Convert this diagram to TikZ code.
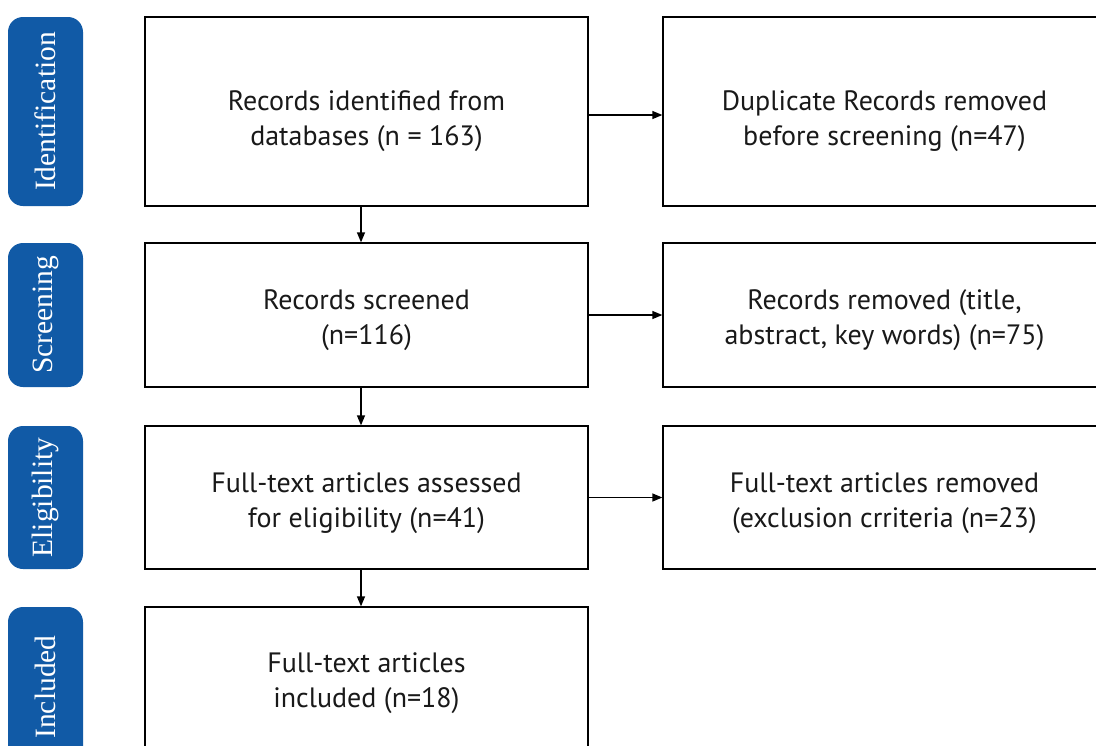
\documentclass[tikz,border=0pt]{standalone}
\usepackage{fontspec}
\setmainfont{PT Sans}
\newfontfamily\labelfont{Liberation Serif}
\usetikzlibrary{arrows.meta,positioning}
\definecolor{stageblue}{RGB}{17,90,166}
\newcommand{\boxtext}[2]{\raisebox{-#1pt}[\height][\depth]{\begin{tabular}{@{}c@{}}#2\end{tabular}}}
\tikzset{
  box/.style={draw=black, line width=1.3pt, minimum width=443pt, align=center, inner sep=0pt,
    font=\fontsize{28}{35}\selectfont, text=black!90},
  stage/.style={fill=stageblue, rounded corners=15pt, minimum width=75pt, inner sep=0pt,
    text=white, font=\labelfont\fontsize{29.5}{32}\selectfont, rotate=90},
  arr/.style={line width=1.3pt, -{Triangle[length=10pt,width=8pt]}}
}
\begin{document}
\begin{tikzpicture}[x=1pt,y=-1pt]
\useasboundingbox[fill=white] (0,0) rectangle (1096,745);
% stage labels
\node[stage, minimum width=189pt, minimum height=75pt] (sid) at (45.5,111.5) {Identification};
\node[stage, minimum width=144pt, minimum height=75pt] (ssc) at (45.5,315) {Screening};
\node[stage, minimum width=143pt, minimum height=75pt] (sel) at (45.5,497.5) {Eligibility};
\node[stage, minimum width=160pt, minimum height=75pt] (sin) at (45.5,687) {Included};
% left boxes
\node[box, minimum height=189pt] (b1) at (366.5,111.5) {\boxtext{9}{Records identified from\\databases (n = 163)}};
\node[box, minimum height=144pt] (b2) at (366.5,315) {\boxtext{5}{Records screened\\(n=116)}};
\node[box, minimum height=143pt] (b3) at (366.5,497.5) {\boxtext{5}{Full-text articles assessed\\for eligibility (n=41)}};
\node[box, minimum height=146pt] (b4) at (366.5,680) {\boxtext{3}{Full-text articles\\included (n=18)}};
% right boxes
\node[box, minimum height=189pt] (r1) at (884.5,111.5) {\boxtext{9}{Duplicate Records removed\\before screening (n=47)}};
\node[box, minimum height=144pt] (r2) at (884.5,315) {\boxtext{5}{Records removed (title,\\abstract, key words) (n=75)}};
\node[box, minimum height=143pt] (r3) at (884.5,497.5) {\boxtext{5}{Full-text articles removed\\(exclusion crriteria (n=23)}};
% arrows
\draw[arr] ([xshift=-5.5pt]b1.south) -- ([xshift=-5.5pt]b2.north);
\draw[arr] ([xshift=-5.5pt]b2.south) -- ([xshift=-5.5pt]b3.north);
\draw[arr] ([xshift=-5.5pt]b3.south) -- ([xshift=-5.5pt]b4.north);
\draw[arr] ([yshift=-3.5pt]b1.east) -- ([yshift=-3.5pt]r1.west);
\draw[arr] (b2.east) -- (r2.west);
\draw[arr] (b3.east) -- (r3.west);
\end{tikzpicture}
\end{document}
